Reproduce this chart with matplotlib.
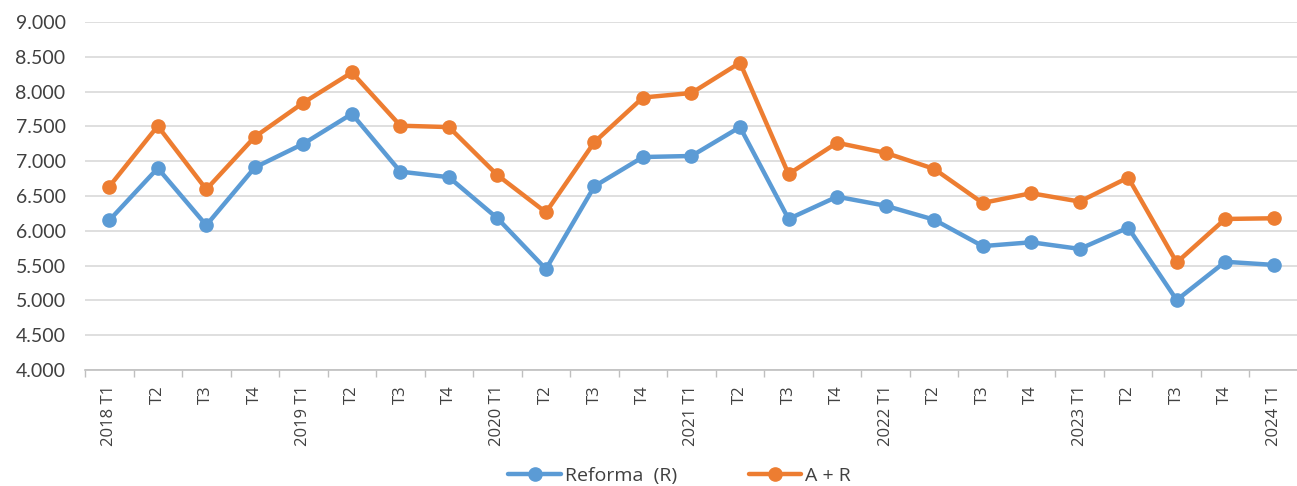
import matplotlib
matplotlib.use("Agg")
import matplotlib.pyplot as plt
from matplotlib.ticker import FuncFormatter, FixedLocator
import numpy as np

categories = ["2018 T1", "T2", "T3", "T4",
              "2019 T1", "T2", "T3", "T4",
              "2020 T1", "T2", "T3", "T4",
              "2021 T1", "T2", "T3", "T4",
              "2022 T1", "T2", "T3", "T4",
              "2023 T1", "T2", "T3", "T4",
              "2024 T1"]

reforma = [6150, 6900, 6080, 6910, 7250, 7680, 6850, 6770, 6180, 5450,
           6640, 7060, 7075, 7490, 6170, 6490, 6360, 6160, 5780, 5835,
           5740, 6045, 5005, 5555, 5510]

a_r = [6635, 7505, 6595, 7350, 7840, 8275, 7510, 7490, 6800, 6265,
       7275, 7915, 7980, 8415, 6815, 7265, 7120, 6890, 6400, 6540,
       6420, 6765, 5545, 6170, 6180]

series_names = ["Reforma  (R)", "A + R"]
colors = ["#5B9BD5", "#ED7D31"]

plt.rcParams['font.family'] = ['Open Sans', 'DejaVu Sans']

fig = plt.figure(figsize=(12.97, 4.86), dpi=100)
ax = fig.add_axes([85 / 1297, (486 - 370) / 486, 1213 / 1297, 348 / 486])

x = np.arange(len(categories))
for vals, name, c in zip([reforma, a_r], series_names, colors):
    ax.plot(x, vals, color=c, lw=3.2, marker='o', ms=9.5, label=name,
            solid_capstyle='round', solid_joinstyle='round')

ax.set_ylim(4000, 9000)
ax.set_yticks(np.arange(4000, 9001, 500))
ax.yaxis.set_major_formatter(FuncFormatter(lambda v, p: f"{int(v):,}".replace(",", ".")))
ax.set_xlim(-0.5, len(categories) - 0.5)
ax.set_xticks(x)
ax.set_xticklabels(categories, rotation=90)
ax.xaxis.set_minor_locator(FixedLocator(np.arange(-0.5, len(categories), 1.0)))
ax.tick_params(axis='x', which='major', length=0, pad=11, labelsize=12, colors='#404040')
ax.tick_params(axis='x', which='minor', length=5, width=1, color='#BFBFBF')
ax.tick_params(axis='y', length=0, pad=14, labelsize=14, colors='#404040')
for lbl in ax.get_yticklabels():
    lbl.set_family(['Lato', 'DejaVu Sans'])

ax.grid(axis='y', color='#D9D9D9', lw=1.2)
ax.set_axisbelow(True)
for s in ['top', 'right', 'left']:
    ax.spines[s].set_visible(False)
ax.spines['bottom'].set_color('#BFBFBF')
ax.spines['bottom'].set_linewidth(1.2)

leg = fig.legend(loc='center', bbox_to_anchor=(0.524, 0.02), ncol=2, frameon=False,
                 fontsize=14, handlelength=2.7, columnspacing=3.7, handletextpad=0.2)
for t in leg.get_texts():
    t.set_color('#404040')

fig.savefig("out.png", dpi=100)
